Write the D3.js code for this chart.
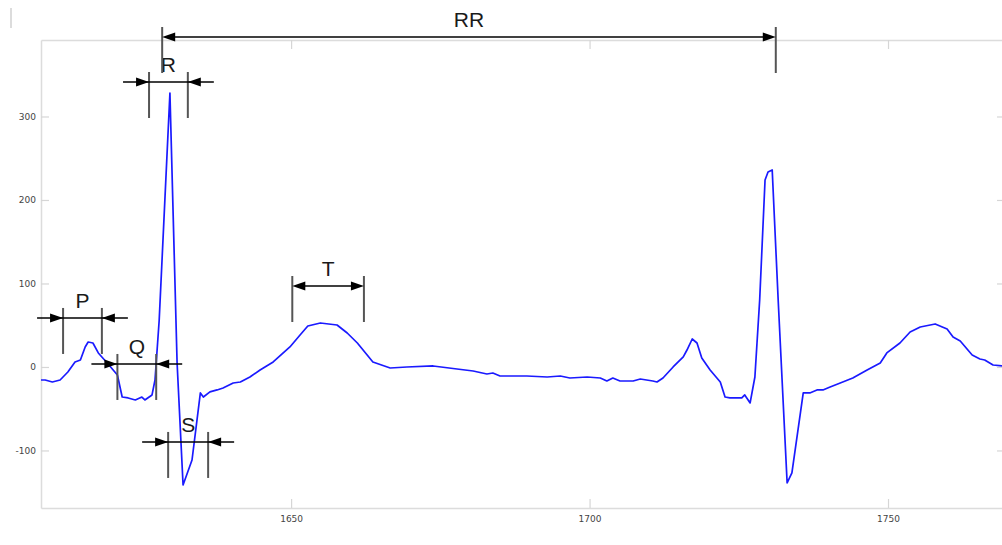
<!DOCTYPE html>
<html>
<head>
<meta charset="utf-8">
<script src="https://cdn.jsdelivr.net/npm/d3@7"></script>
<style>
  body { margin: 0; background: #fff; }
  svg { display: block; }
</style>
</head>
<body>
<script>
// sample index (x) and signal amplitude (y)
const sampleX = [
  1608.1, 1608.8, 1610.0, 1611.3, 1612.6, 1613.8, 1614.7, 1615.5, 1616.0, 1616.8,
  1617.7, 1618.3, 1619.2, 1620.9, 1621.7, 1622.7, 1623.9, 1625.0, 1625.5, 1626.7,
  1627.2, 1627.9, 1629.7, 1630.9, 1631.9, 1633.4, 1634.8, 1635.3, 1636.4, 1637.6,
  1638.6, 1640.3, 1641.5, 1643.1, 1644.8, 1647.0, 1649.8, 1651.5, 1652.8, 1654.9,
  1657.7, 1659.4, 1661.1, 1663.7, 1666.6, 1669.4, 1673.8, 1677.8, 1680.5, 1682.8,
  1683.8, 1685.0, 1689.5, 1692.9, 1695.1, 1696.7, 1699.6, 1701.8, 1702.9, 1703.9,
  1705.1, 1707.3, 1708.5, 1710.6, 1711.3, 1712.3, 1714.0, 1715.7, 1716.3, 1717.2,
  1718.0, 1718.8, 1720.2, 1721.9, 1722.7, 1723.5, 1725.5, 1726.0, 1726.9, 1727.7,
  1728.5, 1729.4, 1729.9, 1730.6, 1731.6, 1733.1, 1733.9, 1735.8, 1736.9, 1738.1,
  1739.1, 1740.3, 1742.0, 1744.1, 1746.5, 1748.7, 1749.8, 1752.0, 1753.7, 1755.4,
  1757.9, 1759.9, 1760.9, 1762.1, 1764.1, 1765.4, 1766.2, 1767.6, 1769.1
];
const ecgValues = [
  -15.6, -15.6, -18.0, -15.6, -6.0, 6.0, 8.4, 24.0, 29.9, 28.7,
  16.8, 12.0, 4.8, -9.6, -36.0, -37.1, -39.5, -36.0, -39.5, -33.5,
  -15.6, 56.0, 328.1, 4.8, -141.3, -111.4, -31.1, -36.0, -29.9, -27.5,
  -25.1, -19.2, -18.0, -12.0, -3.6, 6.0, 24.0, 38.3, 49.1, 52.7,
  50.3, 40.7, 28.7, 6.0, -1.2, 0.0, 1.2, -2.4, -4.8, -8.4,
  -7.2, -10.8, -10.8, -12.0, -10.8, -13.2, -12.0, -13.2, -16.8, -13.2,
  -16.8, -16.8, -14.4, -16.8, -18.0, -13.2, 0.0, 12.0, 20.0, 33.5,
  28.7, 10.8, -3.6, -18.0, -36.0, -37.1, -37.1, -33.5, -43.1, -12.0,
  80.2, 224.0, 233.5, 235.9, 80.2, -138.9, -126.9, -31.1, -31.1, -27.5,
  -27.5, -24.0, -19.2, -13.2, -3.6, 4.8, 16.8, 28.7, 41.9, 47.9,
  51.5, 45.5, 35.9, 31.1, 14.4, 9.6, 8.4, 2.4, 1.2
];

const xTicks = [1650, 1700, 1750];
const yTicks = [-100, 0, 100, 200, 300];

// interval annotations (data units)
const annLabel = ["P", "Q", "R", "S", "T", "RR"];
const annStart = [1611.8, 1620.9, 1626.2, 1629.4, 1650.2, 1628.4];
const annEnd = [1618.3, 1627.4, 1632.7, 1636.1, 1662.2, 1731.2];
const annLevel = [58.7, 3.6, 341.3, -89.8, 97.0, 395.2];
const annArrows = ["out", "out", "out", "out", "in", "in"];

const width = 1002;
const height = 545;
const plotLeft = 41, plotRight = 1005, plotTop = 40, plotBottom = 508;

const x = d3.scaleLinear().domain([1608.1, 1769.6]).range([plotLeft, plotRight]);
const y = d3.scaleLinear().domain([-168.9, 391.6]).range([plotBottom, plotTop]);

const svg = d3.select("body").append("svg")
  .attr("width", width)
  .attr("height", height);

svg.append("defs").append("clipPath").attr("id", "plot")
  .append("rect")
  .attr("x", plotLeft).attr("y", plotTop)
  .attr("width", plotRight - plotLeft).attr("height", plotBottom - plotTop);

// stray mark in the top left corner
svg.append("line")
  .attr("x1", 11).attr("x2", 11).attr("y1", 8).attr("y2", 28)
  .attr("stroke", "#d0d0d0").attr("stroke-width", 1.5);

// axes (box with inward ticks)
const plain = d => String(d);
const styleAxis = g => {
  g.selectAll(".domain").attr("stroke", "#dcdcdc").attr("stroke-width", 1.5);
  g.selectAll(".tick line").attr("stroke", "#d6d6d6").attr("stroke-width", 1.2);
  g.selectAll(".tick text")
    .attr("fill", "#444")
    .style("font-family", "DejaVu Sans, sans-serif")
    .style("font-size", "9px");
};

svg.append("g")
  .attr("transform", `translate(0,${plotBottom})`)
  .call(d3.axisBottom(x).tickValues(xTicks).tickFormat(plain).tickSizeInner(-9).tickSizeOuter(0).tickPadding(8))
  .call(styleAxis);

svg.append("g")
  .attr("transform", `translate(${plotLeft},0)`)
  .call(d3.axisLeft(y).tickValues(yTicks).tickFormat(plain).tickSizeInner(-8).tickSizeOuter(0).tickPadding(5))
  .call(styleAxis);

svg.append("g")
  .attr("transform", `translate(0,${plotTop})`)
  .call(d3.axisTop(x).tickValues(xTicks).tickSizeInner(-9).tickSizeOuter(0).tickFormat(""))
  .call(styleAxis);

svg.append("g")
  .attr("transform", `translate(${plotRight},0)`)
  .call(d3.axisRight(y).tickValues(yTicks).tickSizeInner(-8).tickSizeOuter(0).tickFormat(""))
  .call(styleAxis);

// ECG trace
const points = sampleX.map((v, i) => [v, ecgValues[i]]);
const line = d3.line().x(d => x(d[0])).y(d => y(d[1]));

svg.append("path")
  .datum(points)
  .attr("clip-path", "url(#plot)")
  .attr("fill", "none")
  .attr("stroke", "#1a1aff")
  .attr("stroke-width", 1.7)
  .attr("stroke-linejoin", "round")
  .attr("d", line);

// annotations
const headLen = 13, headHalf = 4.5, tailLen = 26;

function arrowHead(g, tipX, ly, dir) {
  // dir = +1 points right, -1 points left
  g.append("path")
    .attr("d", `M${tipX},${ly} L${tipX - dir * headLen},${ly - headHalf} L${tipX - dir * headLen},${ly + headHalf} Z`)
    .attr("fill", "#000");
}

const ann = annLabel.map((label, i) => ({
  label, x0: annStart[i], x1: annEnd[i], level: annLevel[i], arrows: annArrows[i]
}));

ann.forEach(a => {
  const g = svg.append("g");
  const px0 = x(a.x0), px1 = x(a.x1), py = y(a.level);

  // bars
  [px0, px1].forEach(px => {
    g.append("line")
      .attr("x1", px).attr("x2", px)
      .attr("y1", py - 10).attr("y2", py + 36)
      .attr("stroke", "#555").attr("stroke-width", 2);
  });

  if (a.arrows === "in") {
    g.append("line")
      .attr("x1", px0 + headLen - 1).attr("x2", px1 - headLen + 1)
      .attr("y1", py).attr("y2", py)
      .attr("stroke", "#000").attr("stroke-width", 1.5);
    arrowHead(g, px0, py, -1);
    arrowHead(g, px1, py, 1);
  } else {
    g.append("line")
      .attr("x1", px0 - tailLen).attr("x2", px1 + tailLen)
      .attr("y1", py).attr("y2", py)
      .attr("stroke", "#000").attr("stroke-width", 1.5);
    arrowHead(g, px0, py, 1);
    arrowHead(g, px1, py, -1);
  }

  g.append("text")
    .attr("x", (px0 + px1) / 2)
    .attr("y", py - 18)
    .attr("dy", "0.36em")
    .attr("text-anchor", "middle")
    .attr("fill", "#1a1a1a")
    .style("font-family", "Liberation Sans, Arial, sans-serif")
    .style("font-size", "21px")
    .text(a.label);
});
</script>
</body>
</html>
